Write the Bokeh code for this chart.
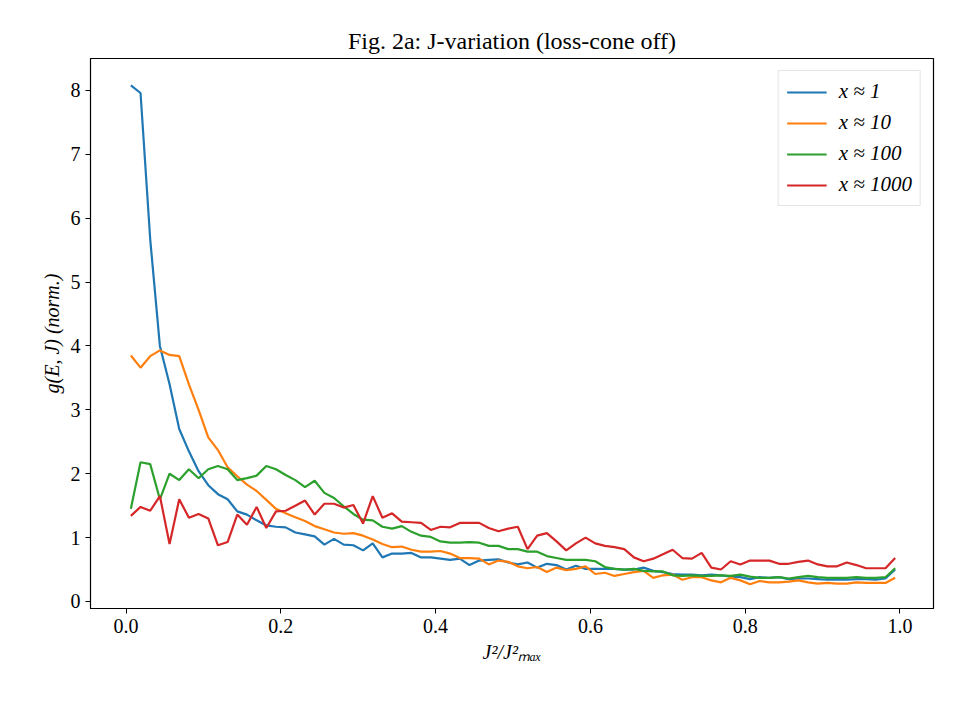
from bokeh.plotting import figure
from bokeh.models import FixedTicker, Legend, LegendItem
from bokeh.embed import file_html
from bokeh.resources import INLINE

# 80 bins in J^2/J_max^2, centred
n_bins = 80
x_vals = [(i + 0.5) / n_bins for i in range(n_bins)]

g_x1 = [8.08, 7.96, 5.67, 4.0, 3.4, 2.7, 2.35, 2.04, 1.82, 1.68, 1.6, 1.41, 1.36, 1.27, 1.19, 1.17,
        1.16, 1.08, 1.05, 1.02, 0.89, 0.98, 0.89,
        0.88, 0.8, 0.91, 0.69, 0.75, 0.75, 0.76, 0.69, 0.69, 0.67, 0.65, 0.67, 0.57, 0.64, 0.65,
        0.66, 0.61, 0.58, 0.61, 0.53, 0.59, 0.57, 0.5, 0.56, 0.51, 0.51, 0.51, 0.51, 0.5,
        0.5, 0.53, 0.48, 0.46, 0.43, 0.42, 0.42, 0.41, 0.42, 0.41, 0.39, 0.38, 0.35, 0.38, 0.37,
        0.38, 0.35, 0.36, 0.36, 0.35, 0.34, 0.34, 0.34, 0.35, 0.35, 0.34, 0.36, 0.5]
g_x10 = [3.85, 3.66, 3.84, 3.93, 3.86, 3.84, 3.4, 3.0, 2.57, 2.37, 2.1, 1.96, 1.83, 1.73, 1.59, 1.45,
         1.38, 1.32, 1.26, 1.18, 1.13, 1.08, 1.06,
         1.07, 1.03, 0.97, 0.9, 0.85, 0.86, 0.81, 0.78, 0.78, 0.79, 0.75, 0.68, 0.68, 0.67, 0.58,
         0.64, 0.62, 0.55, 0.52, 0.54, 0.46, 0.53, 0.49, 0.51, 0.55, 0.43, 0.45, 0.4, 0.43,
         0.46, 0.48, 0.37, 0.41, 0.42, 0.34, 0.38, 0.38, 0.33, 0.3, 0.37, 0.33, 0.27, 0.32, 0.3,
         0.3, 0.31, 0.33, 0.3, 0.28, 0.29, 0.28, 0.28, 0.3, 0.29, 0.29, 0.29, 0.37]
g_x100 = [1.45, 2.18, 2.15, 1.6, 2.0, 1.9, 2.07, 1.93, 2.07, 2.12, 2.07, 1.9, 1.93, 1.97, 2.12, 2.07,
          1.98, 1.9, 1.79, 1.89, 1.7, 1.62, 1.49,
          1.37, 1.28, 1.27, 1.17, 1.14, 1.18, 1.09, 1.03, 1.01, 0.94, 0.92, 0.92, 0.93, 0.92, 0.87,
          0.87, 0.82, 0.82, 0.78, 0.78, 0.71, 0.68, 0.65, 0.65, 0.65, 0.63, 0.54, 0.51, 0.5,
          0.51, 0.48, 0.47, 0.47, 0.41, 0.40, 0.41, 0.40, 0.40, 0.41, 0.40, 0.42, 0.39, 0.37, 0.37,
          0.38, 0.36, 0.38, 0.40, 0.38, 0.37, 0.37, 0.37, 0.38, 0.37, 0.37, 0.38, 0.52]
g_x1000 = [1.34, 1.48, 1.42, 1.65, 0.9, 1.6, 1.31, 1.37, 1.3, 0.88, 0.93, 1.36, 1.2, 1.48, 1.15, 1.41,
           1.42, 1.5, 1.58, 1.36, 1.53, 1.53, 1.47,
           1.51, 1.22, 1.65, 1.31, 1.38, 1.25, 1.24, 1.23, 1.12, 1.17, 1.16, 1.23, 1.23, 1.23, 1.15,
           1.1, 1.14, 1.17, 0.82, 1.03, 1.07, 0.94, 0.8, 0.91, 1.0, 0.91, 0.87, 0.85, 0.82,
           0.69, 0.63, 0.67, 0.74, 0.81, 0.68, 0.67, 0.76, 0.53, 0.5, 0.63, 0.58, 0.64, 0.64, 0.64,
           0.59, 0.59, 0.62, 0.64, 0.58, 0.55, 0.55, 0.61, 0.57, 0.52, 0.52, 0.52, 0.68]

series = [("x ≈ 1", g_x1, "#1f77b4"), ("x ≈ 10", g_x10, "#ff7f0e"),
          ("x ≈ 100", g_x100, "#2ca02c"), ("x ≈ 1000", g_x1000, "#d62728")]

font = "Liberation Serif"

p = figure(width=952, height=712, output_backend="svg", toolbar_location=None,
           x_range=(-0.0459, 1.0433), y_range=(-0.11, 8.5),
           title="Fig. 2a: J-variation (loss-cone off)",
           min_border_left=90, min_border_right=19, min_border_top=58, min_border_bottom=104)

items = []
for label, ys, color in series:
    r = p.line(x_vals, ys, line_color=color, line_width=2.2)
    items.append(LegendItem(label=label, renderers=[r]))

legend = Legend(items=items, location="top_right", label_text_font=font,
                label_text_font_size="21px", label_text_font_style="italic",
                label_text_color="black",
                border_line_color="#cccccc", border_line_width=1,
                background_fill_alpha=0.8, margin=12, padding=8, spacing=6,
                glyph_width=40, label_standoff=12)
p.add_layout(legend)

p.title.align = "center"
p.title.text_font = font
p.title.text_font_size = "24px"
p.title.text_font_style = "normal"
p.title.text_color = "black"

p.xgrid.visible = False
p.ygrid.visible = False
p.outline_line_color = "black"
p.outline_line_width = 1.2

p.xaxis.ticker = FixedTicker(ticks=[0.0, 0.2, 0.4, 0.6, 0.8, 1.0])
p.yaxis.ticker = FixedTicker(ticks=list(range(0, 9)))
p.xaxis.major_label_overrides = {0.0: "0.0", 0.2: "0.2", 0.4: "0.4", 0.6: "0.6", 0.8: "0.8", 1.0: "1.0"}
p.xaxis.axis_label = "J²/J²ₘₐₓ"
p.yaxis.axis_label = "g(E, J) (norm.)"
for ax in (p.xaxis, p.yaxis):
    ax.axis_label_text_font = font
    ax.axis_label_text_font_size = "20px"
    ax.axis_label_text_font_style = "italic"
    ax.axis_label_text_color = "black"
    ax.major_label_text_font = font
    ax.major_label_text_font_size = "20px"
    ax.major_label_text_color = "black"
    ax.minor_tick_line_color = None
    ax.major_tick_out = 5
    ax.major_tick_in = 0
    ax.axis_line_color = "black"
    ax.major_tick_line_color = "black"

open("out.html", "w").write(file_html(p, INLINE))
